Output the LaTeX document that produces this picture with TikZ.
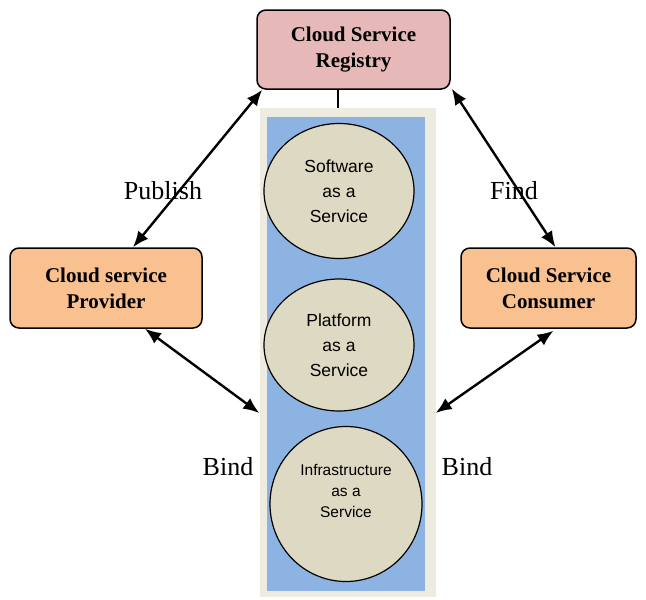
\documentclass[tikz,border=0pt]{standalone}
\usepackage{fontspec}
\setmainfont{Liberation Serif}
\newfontfamily\arialf{Liberation Sans}
\usetikzlibrary{arrows.meta,calc,shapes.geometric}
\definecolor{regfill}{HTML}{E6B8B7}
\definecolor{boxfill}{HTML}{F9C090}
\definecolor{panelout}{HTML}{EEECE1}
\definecolor{panelin}{HTML}{8DB3E2}
\definecolor{circfill}{HTML}{DDD9C3}
\tikzset{
  rbox/.style={draw=black, line width=1.5pt, rounded corners=9pt, align=center,
    font=\fontsize{21}{26}\selectfont\bfseries, inner sep=0pt},
  svc/.style={draw=black, line width=1.2pt, ellipse, fill=circfill, align=center, inner sep=0pt},
  lnk/.style={line width=2.4pt, {Latex[length=16pt,width=13pt]}-{Latex[length=16pt,width=13pt]}},
  lbl/.style={font=\fontsize{26}{30}\selectfont, inner sep=0pt}
}
\begin{document}
\begin{tikzpicture}[x=1pt,y=-1pt]
\useasboundingbox[fill=white] (0,0) rectangle (646,600);
% panel
\node[fill=panelout, minimum width=176pt, minimum height=489pt, inner sep=0pt] (panel) at (347.5,352.5) {};
\node[fill=panelin, minimum width=158pt, minimum height=474pt, inner sep=0pt] (inner) at (346,354) {};
% services
\node[svc, minimum width=150pt, minimum height=135pt, font=\arialf\fontsize{17.5}{25}\selectfont] (saas) at (339,191) {Software\\as a\\Service};
\node[svc, minimum width=150pt, minimum height=132pt, font=\arialf\fontsize{17.5}{25}\selectfont] (paas) at (339,345) {Platform\\as a\\Service};
\node[svc, minimum width=152pt, minimum height=155pt, font=\arialf\fontsize{15.5}{21}\selectfont] (iaas) at (346,504) {Infrastructure\\as a\\Service\\[6pt]};
% boxes
\node[rbox, fill=regfill, minimum width=193pt, minimum height=79pt] (reg) at (353.5,49.5) {Cloud Service\\Registry};
\node[rbox, fill=boxfill, minimum width=192pt, minimum height=80pt] (prov) at (106,288) {Cloud service\\Provider};
\node[rbox, fill=boxfill, minimum width=175pt, minimum height=80pt] (cons) at (548.5,288) {Cloud Service\\Consumer};
% connector registry-panel
\draw[line width=1.2pt] (reg.south -| 338,0) -- (panel.north -| 338,0);
% arrows
\draw[lnk] ($(prov.north)+(27,0)$) -- ($(reg.south west)+(6,0)$);
\draw[lnk] ($(reg.south east)+(1,-1)$) -- ($(cons.north)+(7,0)$);
\draw[lnk] ($(prov.south)+(39,0)$) -- (panel.west |- 0,413);
\draw[lnk] ($(cons.south)+(5,2)$) -- (panel.east |- 0,413);
% labels
\node[lbl] (pub) at (163,191) {Publish};
\node[lbl] (fnd) at (514,191) {Find};
\node[lbl] (bl) at (228,467) {Bind};
\node[lbl] (br) at (467,467) {Bind};
\end{tikzpicture}
\end{document}
